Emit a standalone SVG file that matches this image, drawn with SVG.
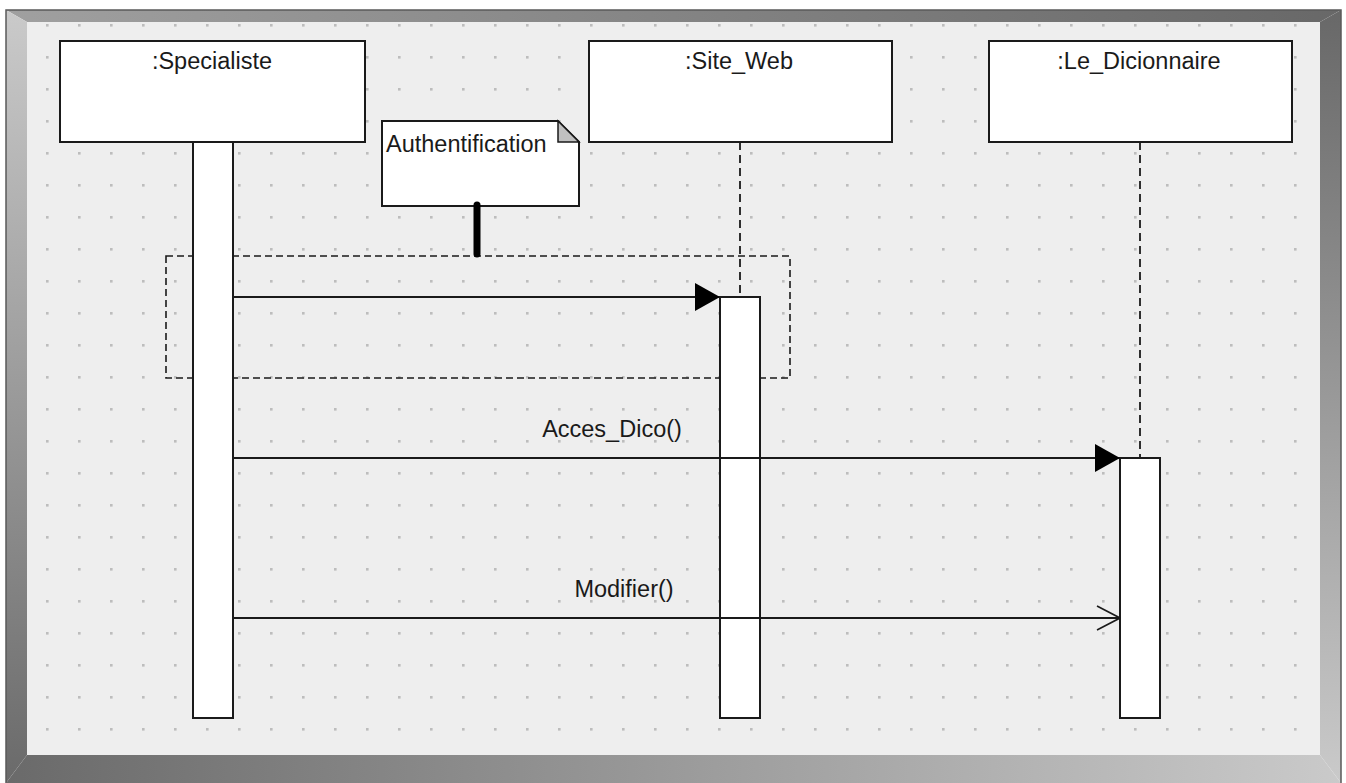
<svg xmlns="http://www.w3.org/2000/svg" width="1346" height="783" viewBox="0 0 1346 783">
<style>
.box{fill:#ffffff;stroke:#1a1a1a;stroke-width:2}
.act{fill:#ffffff;stroke:#1a1a1a;stroke-width:2}
.life{stroke:#1a1a1a;stroke-width:1.8;stroke-dasharray:8 5;fill:none}
.msg{stroke:#1a1a1a;stroke-width:2;fill:none}
.lbl{font-family:"Liberation Sans",Arial,sans-serif;font-size:23.5px;fill:#1a1a1a}
</style>
<defs>
<pattern id="dots" x="31" y="9" width="32" height="32" patternUnits="userSpaceOnUse">
<rect x="15" y="15" width="2.6" height="2.6" fill="#bdbdbd"/>
</pattern>
<linearGradient id="gTop" x1="0" y1="0" x2="1" y2="0"><stop offset="0" stop-color="#a0a0a0"/><stop offset="1" stop-color="#686868"/></linearGradient>
<linearGradient id="gLeft" x1="0" y1="0" x2="0" y2="1"><stop offset="0" stop-color="#cacaca"/><stop offset="1" stop-color="#6a6a6a"/></linearGradient>
<linearGradient id="gRight" x1="0" y1="0" x2="0" y2="1"><stop offset="0" stop-color="#686868"/><stop offset="1" stop-color="#cacaca"/></linearGradient>
<linearGradient id="gBot" x1="0" y1="0" x2="1" y2="0"><stop offset="0" stop-color="#6a6a6a"/><stop offset="1" stop-color="#cacaca"/></linearGradient>
<marker id="filled" markerWidth="26" markerHeight="30" refX="25" refY="15" orient="auto" markerUnits="userSpaceOnUse">
<path d="M0,1 L25,15 L0,29 Z" fill="#000"/>
</marker>
<marker id="open" markerWidth="26" markerHeight="30" refX="25" refY="15" orient="auto" markerUnits="userSpaceOnUse">
<path d="M2,3 L25,15 L2,27" fill="none" stroke="#1a1a1a" stroke-width="1.6"/>
</marker>
</defs>
<rect width="1346" height="783" fill="#ffffff"/>
<g id="frame">
<polygon points="6,10 1341,10 1320,22 27,22" fill="url(#gTop)"/>
<polygon points="6,10 27,22 27,755 6,783" fill="url(#gLeft)"/>
<polygon points="1341,10 1341,783 1320,755 1320,22" fill="url(#gRight)"/>
<polygon points="6,783 27,755 1320,755 1341,783" fill="url(#gBot)"/>
<polyline points="6,783 6,10 1341,10 1341,783" fill="none" stroke="#5a5a5a" stroke-width="1.5"/>
<rect x="27" y="22" width="1293" height="733" fill="#eeeeee"/>
<rect x="27" y="22" width="1293" height="733" fill="url(#dots)"/>
</g>
<g id="lifelines">
<line class="life" x1="740" y1="142" x2="740" y2="297"/>
<line class="life" x1="1140" y1="142" x2="1140" y2="458"/>
</g>
<g id="fragment">
<rect x="166" y="256" width="624" height="122" fill="none" stroke="#1a1a1a" stroke-width="1.6" stroke-dasharray="7 4"/>
</g>
<g id="specialiste">
<rect class="box" x="60" y="41" width="305" height="101"/>
<text class="lbl" x="212" y="69" text-anchor="middle">:Specialiste</text>
<rect class="act" x="193" y="142" width="40" height="576"/>
</g>
<g id="site_web">
<rect class="box" x="589" y="41" width="303" height="101"/>
<text class="lbl" x="739" y="69" text-anchor="middle">:Site_Web</text>
<rect class="act" x="720" y="297" width="40" height="421"/>
</g>
<g id="le_dicionnaire">
<rect class="box" x="989" y="41" width="303" height="101"/>
<text class="lbl" x="1139" y="69" text-anchor="middle">:Le_Dicionnaire</text>
<rect class="act" x="1120" y="458" width="40" height="260"/>
</g>
<g id="note">
<path d="M382,121 L558,121 L579,142 L579,206 L382,206 Z" fill="#ffffff" stroke="#1a1a1a" stroke-width="2"/>
<path d="M558,121 L558,142 L579,142 Z" fill="#c0c0c0" stroke="#1a1a1a" stroke-width="1.5"/>
<text class="lbl" x="386" y="152">Authentification</text>
</g>
<g id="connectors">
<line x1="477" y1="205" x2="477" y2="254" stroke="#000" stroke-width="7" stroke-linecap="round"/>
<line class="msg" x1="233" y1="297" x2="720" y2="297" marker-end="url(#filled)"/>
<line class="msg" x1="233" y1="458" x2="1120" y2="458" marker-end="url(#filled)"/>
<line class="msg" x1="233" y1="618" x2="1120" y2="618" marker-end="url(#open)"/>
<text class="lbl" x="612" y="437" text-anchor="middle">Acces_Dico()</text>
<text class="lbl" x="624" y="597" text-anchor="middle">Modifier()</text>
</g>
</svg>
